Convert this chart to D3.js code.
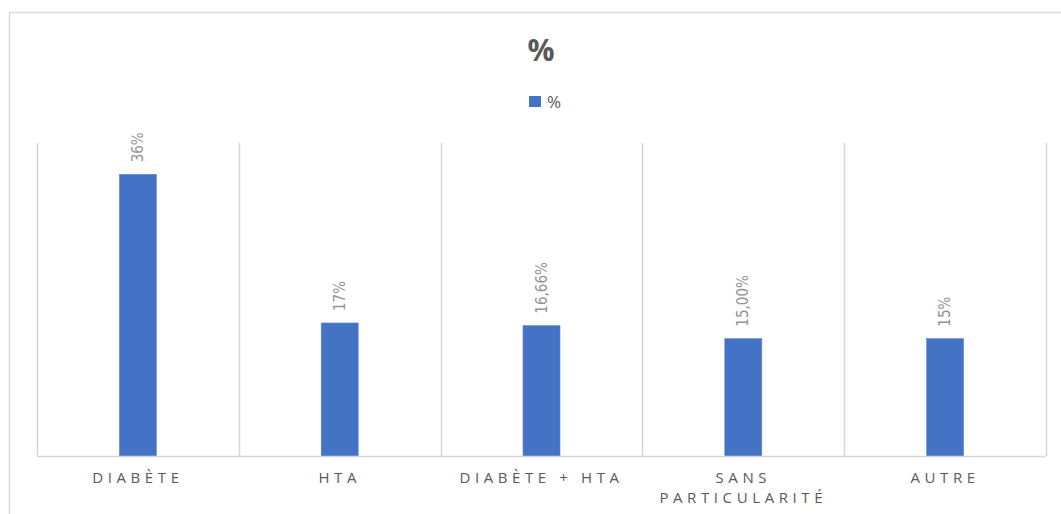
<!DOCTYPE html>
<html>
<head>
<meta charset="utf-8">
<script src="https://cdn.jsdelivr.net/npm/d3@7"></script>
<style>
  html, body { margin: 0; padding: 0; background: #fff; }
  svg { display: block; }
</style>
</head>
<body>
<svg id="chart" width="1061" height="514"></svg>
<script>
// Chart data
const categories = [["DIABÈTE"], ["HTA"], ["DIABÈTE + HTA"], ["SANS", "PARTICULARITÉ"], ["AUTRE"]];
const values = [36, 17, 16.66, 15, 15];
const valueLabels = ["36%", "17%", "16,66%", "15,00%", "15%"];
const seriesName = "%";
const chartTitle = "%";

const W = 1061, H = 514;
const plot = { left: 37, right: 1046, top: 143, bottom: 456 };
const grey = "#d9d9d9";
const barColor = "#4472c4";

const svg = d3.select("#chart");

// Outer frame (top and left edges)
svg.append("path")
  .attr("d", `M9.5,514 V12.5 H${W}`)
  .attr("fill", "none").attr("stroke", grey).attr("stroke-width", 1.5);

const x = d3.scaleBand()
  .domain(d3.range(categories.length))
  .range([plot.left, plot.right])
  .paddingInner(0).paddingOuter(0);

const y = d3.scaleLinear().domain([0, 40]).range([plot.bottom, plot.top]);

// Category separators
const seps = d3.range(categories.length + 1).map(i => i < categories.length ? x(i) : plot.right);
svg.append("g").selectAll("line").data(seps).join("line")
  .attr("x1", d => Math.round(d) + 0.5).attr("x2", d => Math.round(d) + 0.5)
  .attr("y1", plot.top).attr("y2", plot.bottom)
  .attr("stroke", "#d6d6d6").attr("stroke-width", 1.5);

// Bars
const barW = 37;
svg.append("g").selectAll("rect").data(values).join("rect")
  .attr("x", (d, i) => x(i) + x.bandwidth() / 2 - barW / 2)
  .attr("y", d => y(d))
  .attr("width", barW)
  .attr("height", d => y(0) - y(d))
  .attr("fill", barColor)
  .attr("stroke", "#5b87d6").attr("stroke-width", 0.6);

// Baseline
svg.append("line")
  .attr("x1", plot.left).attr("x2", plot.right)
  .attr("y1", plot.bottom + 0.5).attr("y2", plot.bottom + 0.5)
  .attr("stroke", "#d6d6d6").attr("stroke-width", 1.6);

// Value labels, rotated
svg.append("g").selectAll("text").data(values).join("text")
  .attr("transform", (d, i) => `translate(${x(i) + x.bandwidth() / 2 + 5},${y(d) - 12}) rotate(-90)`)
  .attr("text-anchor", "start")
  .attr("font-family", "'Liberation Sans Narrow', 'DejaVu Sans Condensed', sans-serif")
  .attr("font-size", 15)
  .attr("fill", "#939393")
  .text((d, i) => valueLabels[i]);

// Category labels
const catG = svg.append("g")
  .attr("font-family", "'Open Sans', 'Noto Sans', sans-serif")
  .attr("font-size", 15)
  .attr("letter-spacing", "4.6px")
  .attr("fill", "#595959")
  .attr("text-anchor", "middle");
categories.forEach((lines, i) => {
  const cx = x(i) + x.bandwidth() / 2;
  const t = catG.append("text").attr("x", cx).attr("y", 483);
  lines.forEach((ln, j) => {
    t.append("tspan")
      .attr("x", cx)
      .attr("dy", j === 0 ? 0 : 20)
      .text(ln);
  });
});

// Title
svg.append("text")
  .attr("x", 541).attr("y", 61)
  .attr("text-anchor", "middle")
  .attr("font-family", "'Open Sans', 'Noto Sans', sans-serif")
  .attr("font-weight", "bold")
  .attr("font-size", 30)
  .attr("fill", "#595959")
  .text(chartTitle);

// Legend
svg.append("rect")
  .attr("x", 529).attr("y", 96).attr("width", 12).attr("height", 11)
  .attr("fill", barColor);
svg.append("text")
  .attr("x", 547).attr("y", 108)
  .attr("font-family", "'Open Sans', 'Noto Sans', sans-serif")
  .attr("font-size", 17)
  .attr("fill", "#595959")
  .text(seriesName);
</script>
</body>
</html>
